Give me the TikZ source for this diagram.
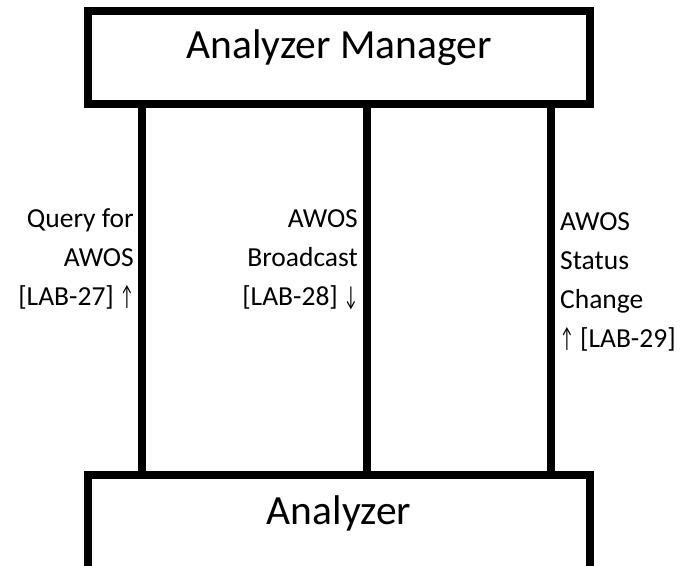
\documentclass[tikz,border=0pt]{standalone}
\usepackage{fontspec}
\setmainfont{Carlito}
\newcommand{\uparr}{\scalebox{0.55}[1]{↑}}
\newcommand{\dnarr}{\scalebox{0.55}[1]{↓}}
\begin{document}
\begin{tikzpicture}[x=1pt,y=-1pt,
  boxstyle/.style={draw=black, line width=8pt, fill=white, inner sep=0pt},
  bigtext/.style={font=\fontsize{41.5}{46}\selectfont, inner sep=0pt},
  lbltext/.style={font=\fontsize{27.5}{38.7}\selectfont, inner sep=0pt},
  wire/.style={draw=black, line width=8pt}]
\useasboundingbox (0,0) rectangle (680,565);
\fill[white] (0,0) rectangle (680,565);
\node[boxstyle, minimum width=502pt, minimum height=93pt] (mgr) at (339,57.5) {};
\node[boxstyle, minimum width=502pt, minimum height=95pt] (ana) at (339,522.5) {};
\node[bigtext, anchor=base] (mgrtext) at (339,58) {Analyzer Manager};
\node[bigtext, anchor=base] (anatext) at (339,524) {Analyzer};
\coordinate (c1) at (142,0);
\coordinate (c2) at (367,0);
\coordinate (c3) at (551,0);
\draw[wire] (mgr.south -| c1) -- (ana.north -| c1);
\draw[wire] (mgr.south -| c2) -- (ana.north -| c2);
\draw[wire] (mgr.south -| c3) -- (ana.north -| c3);
\node[lbltext, anchor=base east, align=right] (l1) at (134,305) {Query for\\AWOS\\{[LAB-27]} \uparr};
\node[lbltext, anchor=base east, align=right] (l2) at (358,305) {AWOS\\Broadcast\\{[LAB-28]} \dnarr};
\node[lbltext, anchor=base west, align=left] (l3) at (560,347) {AWOS\\Status\\Change\\\uparr{} {[LAB-29]}};
\end{tikzpicture}
\end{document}
